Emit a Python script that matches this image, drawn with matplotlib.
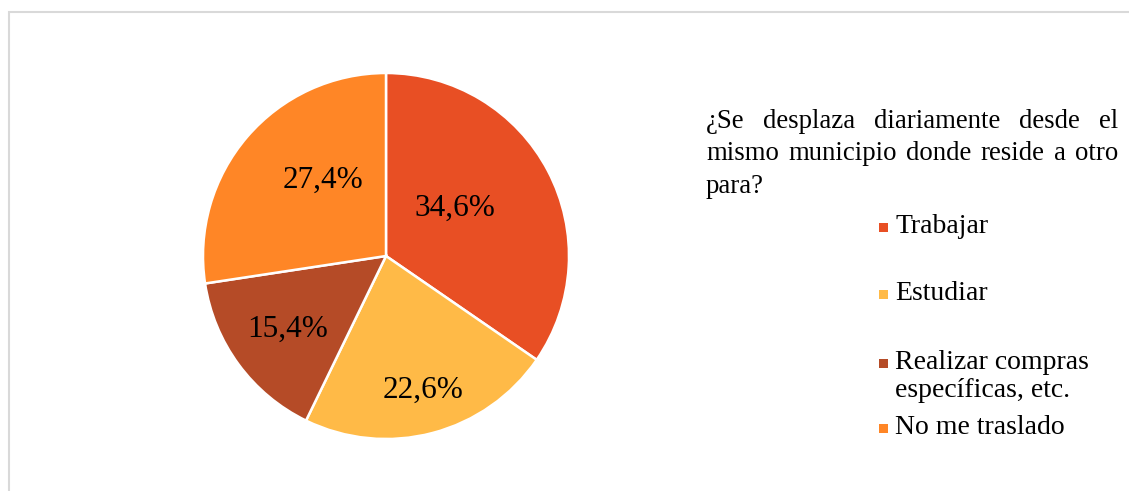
import numpy as np
import matplotlib
matplotlib.use("Agg")
import matplotlib.pyplot as plt
from matplotlib.patches import Rectangle

plt.rcParams['font.family'] = ['Liberation Serif', 'DejaVu Serif']

categories = ["Trabajar", "Estudiar", "Realizar compras\nespecíficas, etc.", "No me traslado"]
values = [34.6, 22.6, 15.4, 27.4]
colors = ["#E84F24", "#FFBA47", "#B54B27", "#FF8626"]
title_lines = ["¿Se desplaza diariamente desde el",
               "mismo municipio donde reside a otro",
               "para?"]

W, H = 1129, 491
fig = plt.figure(figsize=(W / 100, H / 100), dpi=100)

# chart frame (cut by the page edge on the right and bottom)
fig.add_artist(Rectangle((9 / W, -0.05), 1.2, (1 - 12 / H) + 0.05,
                         transform=fig.transFigure, fill=False,
                         edgecolor="#d9d9d9", linewidth=1.5))

# pie axes: center (386, 256), radius 183 px
r = 183
cx, cy = 386, 256
ax = fig.add_axes([(cx - r) / W, 1 - (cy + r) / H, 2 * r / W, 2 * r / H])
wedges, _ = ax.pie(values, colors=colors, startangle=90, counterclock=False,
                   radius=1, wedgeprops=dict(edgecolor="white", linewidth=1.8))
ax.set_xlim(-1, 1)
ax.set_ylim(-1, 1)
ax.set_aspect("auto")
ax.axis("off")

label_dist = [0.46, 0.76, 0.67, 0.54]
label_rot = [7, 0.5, 0.5, -9.5]
for w, v, d, da in zip(wedges, values, label_dist, label_rot):
    ang = np.deg2rad((w.theta1 + w.theta2) / 2 + da)
    ax.text(d * np.cos(ang), d * np.sin(ang), f"{v:.1f}%".replace(".", ","),
            ha="center", va="center", fontsize=22.5, color="black")

# justified title text
renderer = fig.canvas.get_renderer()
x0, x1 = 706, 1118
fs_title = 19.3
fs = 20
line_y = [121, 154, 187]
for i, (line, yy) in enumerate(zip(title_lines, line_y)):
    words = line.split(" ")
    if i < len(title_lines) - 1 and len(words) > 1:
        widths = []
        for wd in words:
            t = fig.text(0, 0, wd, fontsize=fs_title)
            widths.append(t.get_window_extent(renderer).width)
            t.remove()
        gap = (x1 - x0 - sum(widths)) / (len(words) - 1)
        x = x0
        for wd, wi in zip(words, widths):
            fig.text(x / W, 1 - yy / H, wd, fontsize=fs_title, ha="left", va="center")
            x += wi + gap
    else:
        fig.text(x0 / W, 1 - yy / H, line, fontsize=fs_title, ha="left", va="center")

# legend
leg_y = [227, 294, 363, 428]
for lab, col, yy in zip(categories, colors, leg_y):
    fig.add_artist(Rectangle(((883 - 4.5) / W, 1 - (yy + 4.5) / H), 9 / W, 9 / H,
                             transform=fig.transFigure, facecolor=col, edgecolor="none"))
    fig.text(895 / W, 1 - (yy - 13) / H, lab, fontsize=fs, ha="left", va="top",
             linespacing=1.15)

fig.savefig("out.png", dpi=100)
